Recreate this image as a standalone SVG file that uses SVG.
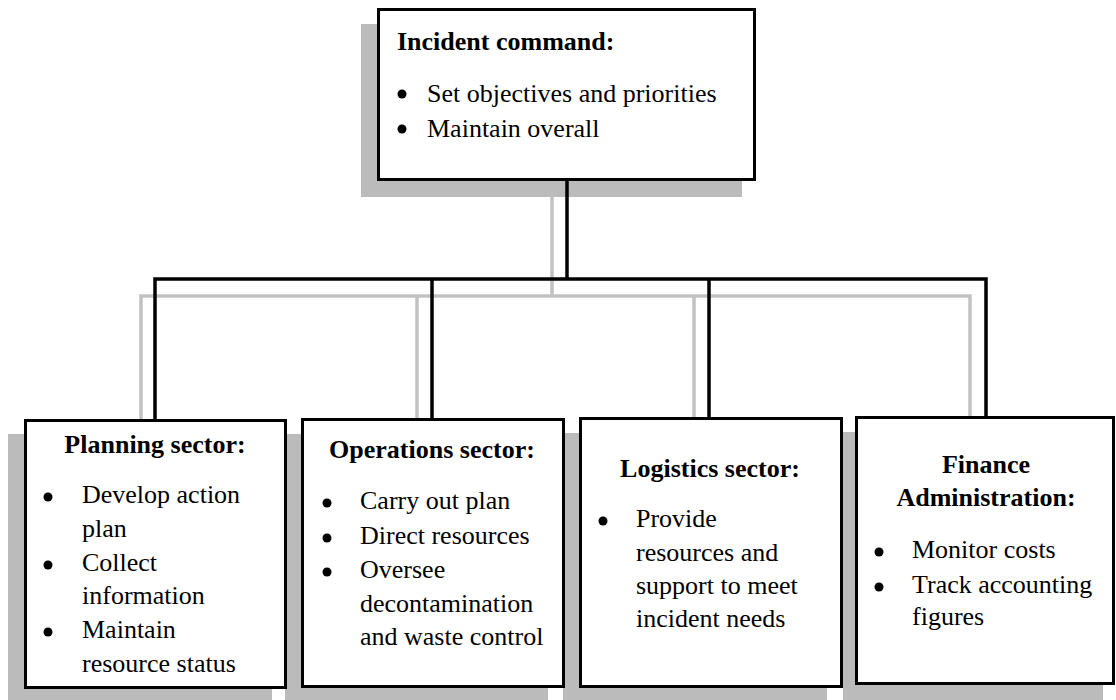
<svg xmlns="http://www.w3.org/2000/svg" width="1116" height="700" viewBox="0 0 1116 700">
  <style>
    .shadow { fill: #bbbbbb; }
    .box { fill: #ffffff; stroke: #000000; stroke-width: 3; }
    .wire { fill: none; stroke: #000000; stroke-width: 3.5; stroke-linejoin: miter; }
    .wire-shadow { fill: none; stroke: #c2c2c2; stroke-width: 3.5; }
    .title { font-family: "Liberation Serif", "Times New Roman", serif; font-size: 26px; font-weight: bold; fill: #000; }
    .item { font-family: "Liberation Serif", "Times New Roman", serif; font-size: 26px; fill: #000; }
    .mid { text-anchor: middle; }
    .dot { fill: #000; }
  </style>

  <!-- drop shadows behind the boxes and the tree -->
  <g id="shadows">
    <rect class="shadow" x="361" y="24" width="381" height="173"/>
    <rect class="shadow" x="8" y="434" width="264" height="270"/>
    <rect class="shadow" x="285" y="434" width="263" height="270"/>
    <rect class="shadow" x="563" y="433" width="264" height="270"/>
    <rect class="shadow" x="843" y="432" width="260" height="270"/>
    <path class="wire-shadow" d="M552 197 V296 M141 434 V296 H970 V434 M417 296 V434 M694 296 V434"/>
  </g>

  <!-- connectors from the command box to the four sectors -->
  <g id="connectors">
    <path class="wire" d="M567 180 V279"/>
    <path class="wire" d="M155 420 V279 H986 V420"/>
    <path class="wire" d="M432 279 V420"/>
    <path class="wire" d="M709 279 V420"/>
  </g>

  <g id="incident-command">
    <rect class="box" x="378.5" y="9.5" width="376" height="170"/>
    <text class="title" x="397" y="50">Incident command:</text>
    <circle class="dot" cx="402" cy="94" r="4.5"/>
    <text class="item" x="427" y="102">Set objectives and priorities</text>
    <circle class="dot" cx="402" cy="129" r="4.5"/>
    <text class="item" x="427" y="137">Maintain overall</text>
  </g>

  <g id="planning-sector">
    <rect class="box" x="25.5" y="420.5" width="260" height="267"/>
    <text class="title mid" x="155" y="453">Planning sector:</text>
    <circle class="dot" cx="48" cy="497" r="4.5"/>
    <text class="item" x="82" y="503">Develop action</text>
    <text class="item" x="82" y="537">plan</text>
    <circle class="dot" cx="48" cy="565" r="4.5"/>
    <text class="item" x="82" y="571">Collect</text>
    <text class="item" x="82" y="604">information</text>
    <circle class="dot" cx="48" cy="632" r="4.5"/>
    <text class="item" x="82" y="638">Maintain</text>
    <text class="item" x="82" y="672">resource status</text>
  </g>

  <g id="operations-sector">
    <rect class="box" x="302.5" y="419.5" width="261" height="267"/>
    <text class="title mid" x="432" y="458">Operations sector:</text>
    <circle class="dot" cx="327" cy="503" r="4.5"/>
    <text class="item" x="360" y="509">Carry out plan</text>
    <circle class="dot" cx="327" cy="538" r="4.5"/>
    <text class="item" x="360" y="544">Direct resources</text>
    <circle class="dot" cx="327" cy="572" r="4.5"/>
    <text class="item" x="360" y="578">Oversee</text>
    <text class="item" x="360" y="612">decontamination</text>
    <text class="item" x="360" y="645">and waste control</text>
  </g>

  <g id="logistics-sector">
    <rect class="box" x="580.5" y="418.5" width="261" height="268"/>
    <text class="title mid" x="710" y="477">Logistics sector:</text>
    <circle class="dot" cx="603" cy="521" r="4.5"/>
    <text class="item" x="636" y="527">Provide</text>
    <text class="item" x="636" y="561">resources and</text>
    <text class="item" x="636" y="594">support to meet</text>
    <text class="item" x="636" y="627">incident needs</text>
  </g>

  <g id="finance-administration">
    <rect class="box" x="856.5" y="417.5" width="257" height="266"/>
    <text class="title mid" x="986" y="473">Finance</text>
    <text class="title mid" x="986" y="506">Administration:</text>
    <circle class="dot" cx="879" cy="552" r="4.5"/>
    <text class="item" x="912" y="558">Monitor costs</text>
    <circle class="dot" cx="879" cy="587" r="4.5"/>
    <text class="item" x="912" y="593">Track accounting</text>
    <text class="item" x="912" y="625">figures</text>
  </g>
</svg>
